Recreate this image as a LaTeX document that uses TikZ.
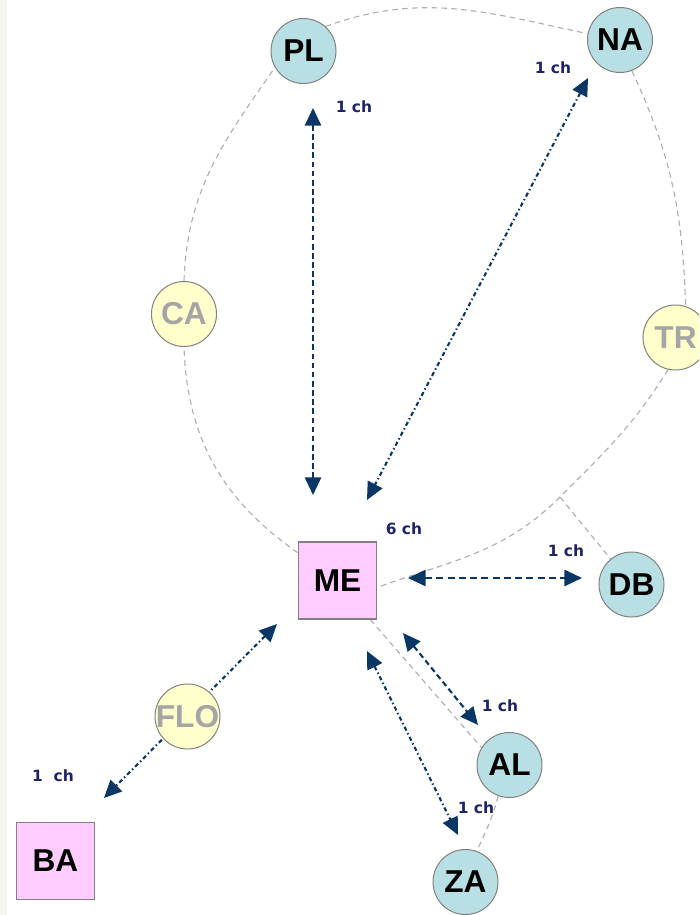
\documentclass[tikz,border=0pt]{standalone}
\usepackage{fontspec}
\setmainfont{Liberation Sans}
\newfontfamily\lblfont{DejaVu Sans}
\usetikzlibrary{arrows.meta,backgrounds}

\definecolor{navy}{RGB}{10,54,102}
\definecolor{lblblue}{RGB}{30,35,105}
\definecolor{ringgray}{RGB}{175,175,175}
\definecolor{edgegray}{RGB}{128,128,128}
\definecolor{sitefill}{RGB}{184,223,227}
\definecolor{minorfill}{RGB}{255,255,204}
\definecolor{hubfill}{RGB}{255,204,255}
\definecolor{mutetext}{RGB}{165,165,165}
\definecolor{stripgray}{RGB}{244,244,241}

\tikzset{
  site/.style={circle, draw=edgegray, line width=0.7pt, fill=sitefill,
    minimum size=1.625cm, inner sep=0pt,
    font=\fontsize{22.5}{26}\selectfont\bfseries},
  minor/.style={site, fill=minorfill, text=mutetext},
  hub/.style={rectangle, draw=edgegray, line width=0.9pt, fill=hubfill,
    minimum width=1.95cm, minimum height=1.925cm, inner sep=0pt,
    font=\fontsize{22.5}{26}\selectfont\bfseries},
  ring/.style={draw=ringgray, line width=0.8pt, dash pattern=on 4pt off 3pt},
  link/.style={navy, line width=1.5pt,
    {Triangle[width=11.5pt,length=12.5pt]}-{Triangle[width=11.5pt,length=12.5pt]}},
  dashlink/.style={link, dash pattern=on 4pt off 2.5pt},
  dotlink/.style={link, dash pattern=on 3pt off 2pt on 1pt off 2pt},
  chan/.style={text=lblblue, inner sep=0pt,
    font=\lblfont\bfseries\fontsize{11}{13}\selectfont}
}

\begin{document}
\begin{tikzpicture}[x=0.025cm, y=-0.025cm]
  \useasboundingbox (0,0) rectangle (699,915);
  \clip (0,0) rectangle (699,915);

  % sites
  \node[site]  (PL)  at (303.5,51)   {PL};
  \node[site]  (NA)  at (620,40)     {NA};
  \node[minor] (CA)  at (184,314)    {CA};
  \node[minor] (TR)  at (675.5,337.5){TR};
  \node[hub]   (ME)  at (337.5,580.5){ME};
  \node[site]  (DB)  at (631.5,584.5){DB};
  \node[minor] (FLO) at (187.5,716.5){\makebox[0pt]{FLO}};
  \node[site]  (AL)  at (509.5,765)  {AL};
  \node[site]  (ZA)  at (465.5,882)  {ZA};
  \node[hub]   (BA)  at (55.5,861)   {BA};

  % branch point of the ring towards DB
  \coordinate (j) at (560,497);

  % ends of the channel arrows
  \coordinate (plA) at (313,108);  \coordinate (plB) at (313,495);
  \coordinate (naA) at (588,78);   \coordinate (naB) at (367,500);
  \coordinate (dbA) at (408,578);  \coordinate (dbB) at (582,578);
  \coordinate (alA) at (403,633);  \coordinate (alB) at (478,725);
  \coordinate (zaA) at (367,651);  \coordinate (zaB) at (458,835);
  \coordinate (baA) at (277,624);  \coordinate (baB) at (104,798);

  \begin{scope}[on background layer]
    \fill[stripgray] (0,0) rectangle (7,915);

    % ring of links between the sites
    \draw[ring] (ME) to[out=145, in=-88] (CA.south);
    \draw[ring] (CA.north) to[out=88, in=235] (PL.210);
    \draw[ring] (PL.48) to[out=20, in=168] (NA.169);
    \draw[ring] (NA.-69) to[out=-65, in=92] (TR.72);
    \draw[ring] (TR.-103) to[out=-122, in=45] (j)
                to[out=-135, in=20] (ME.-10);
    \draw[ring] (j) -- (DB);
    \draw[ring] (ME.-50) -- (AL.148);
    \draw[ring] (AL.-110) to[out=-105, in=65] (ZA.70);

    % channels
    \draw[dashlink] (plA) -- (plB);
    \draw[dotlink]  (naA) -- (naB);
    \draw[link, dash pattern=on 5pt off 3pt] (dbA) -- (dbB);
    \draw[dashlink] (alA) -- (alB);
    \draw[dotlink]  (zaA) -- (zaB);
    \draw[dotlink]  (baA) -- (baB);
  \end{scope}

  % channel counts
  \node[chan] (lPL) at (354,107) {1 ch};
  \node[chan] (lNA) at (553,68)  {1 ch};
  \node[chan] (lME) at (404,529) {6 ch};
  \node[chan] (lDB) at (566,551) {1 ch};
  \node[chan] (lAL) at (500,706) {1 ch};
  \node[chan] (lZA) at (476,808) {1 ch};
  \node[chan] (lBA) at (53,776)  {1~~ch};
\end{tikzpicture}
\end{document}
